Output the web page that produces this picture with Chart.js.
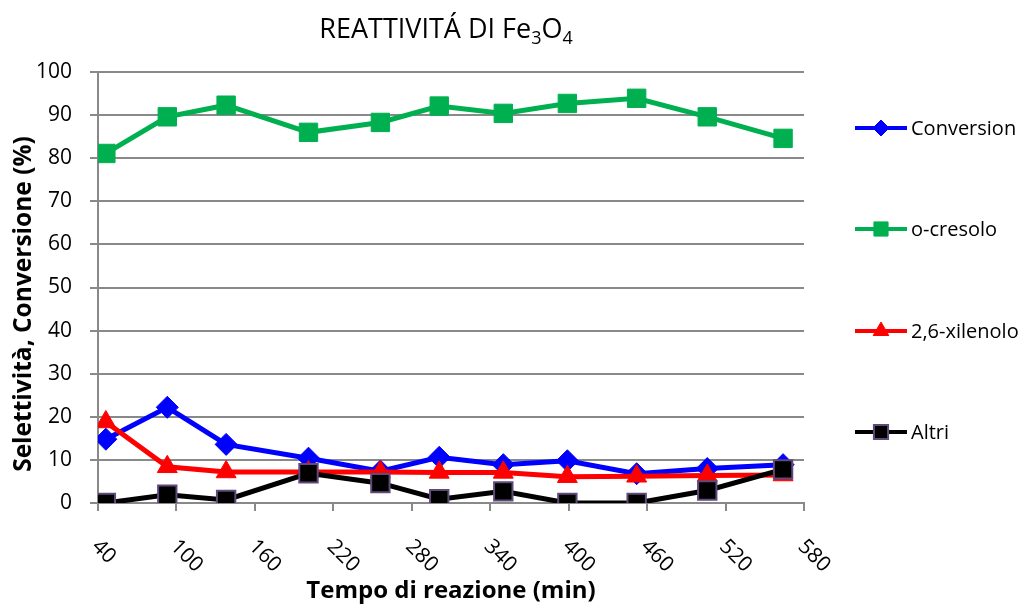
<!DOCTYPE html>
<html>
<head>
<meta charset="utf-8">
<script src="https://cdn.jsdelivr.net/npm/chart.js@4/dist/chart.umd.min.js"></script>
<style>
  html, body { margin: 0; padding: 0; background: #ffffff; }
  #wrap { width: 1036px; height: 607px; }
  canvas { display: block; }
</style>
</head>
<body>
<div id="wrap"><canvas id="c" width="1036" height="607"></canvas></div>
<script>
// ---- data ----
const times       = [46, 93, 138, 201, 256, 301, 350, 399, 452, 506, 564];
const conversion  = [14.8, 22.2, 13.6, 10.4, 7.4, 10.6, 8.9, 9.8, 6.8, 8.0, 8.9];
const oCresolo    = [81.1, 89.6, 92.3, 86.0, 88.3, 92.1, 90.4, 92.7, 93.9, 89.6, 84.6];
const xilenolo    = [18.8, 8.4, 7.2, 7.2, 7.2, 7.1, 7.1, 6.1, 6.2, 6.4, 6.5];
const altri       = [0, 1.9, 0.7, 6.9, 4.6, 0.9, 2.7, 0, 0, 2.9, 7.8];
const seriesNames = ['Conversion', 'o-cresolo', '2,6-xilenolo', 'Altri'];
const xTicks      = [40, 100, 160, 220, 280, 340, 400, 460, 520, 580];
const yTicks      = [0, 10, 20, 30, 40, 50, 60, 70, 80, 90, 100];
const titleParts  = [['REATTIVITÁ DI Fe', false], ['3', true], ['O', false], ['4', true]];
const xTitle      = 'Tempo di reazione (min)';
const yTitle      = 'Selettività, Conversione (%)';

const FONT = "'Open Sans', 'Liberation Sans', sans-serif";
const GRID = '#898989';

function pts(ys) { return ys.map((v, i) => ({ x: times[i], y: v })); }

const styles = [
  { color: '#0000ff', border: '#0000ff', style: 'rectRot', r: 11, lr: 8, bw: 1, order: 3 },
  { color: '#00b050', border: '#00b050', style: 'rect', r: 13, lr: 10, bw: 1, order: 2 },
  { color: '#ff0000', border: '#ff0000', style: 'triangle', r: 11.5, lr: 9, bw: 1, order: 1 },
  { color: '#000000', border: '#604a7b', style: 'rect', r: 13, lr: 10, bw: 2, order: 0 }
];
const seriesValues = [conversion, oCresolo, xilenolo, altri];

const datasets = seriesValues.map((vals, i) => ({
  label: seriesNames[i],
  data: pts(vals),
  borderColor: styles[i].color,
  backgroundColor: styles[i].color,
  borderWidth: 5,
  pointStyle: styles[i].style,
  pointRadius: styles[i].r,
  pointHoverRadius: styles[i].r,
  pointBackgroundColor: styles[i].color,
  pointBorderColor: styles[i].border,
  pointBorderWidth: styles[i].bw,
  tension: 0,
  order: styles[i].order
}));

// custom chart title with subscripts + y axis title
const titlePlugin = {
  id: 'subTitle',
  afterDraw(chart) {
    const ctx = chart.ctx;
    ctx.save();
    ctx.fillStyle = '#000';
    ctx.textBaseline = 'alphabetic';
    const big = "27px " + FONT, small = "18px " + FONT;
    let total = 0;
    titleParts.forEach(([t, sub]) => { ctx.font = sub ? small : big; total += ctx.measureText(t).width; });
    let x = 446 - total / 2;
    const base = 38;
    titleParts.forEach(([t, sub]) => {
      ctx.font = sub ? small : big;
      ctx.textAlign = 'left';
      ctx.fillText(t, x, sub ? base + 6 : base);
      x += ctx.measureText(t).width;
    });
    // y axis title
    ctx.save();
    ctx.translate(24, 304);
    ctx.rotate(-Math.PI / 2);
    ctx.font = "bold 24.5px " + FONT;
    ctx.textAlign = 'center';
    ctx.textBaseline = 'middle';
    ctx.fillText(yTitle, 0, 0);
    ctx.restore();
    ctx.restore();
  }
};

// rotated x tick labels (down-right, as in the reference)
const xLabelPlugin = {
  id: 'xLabels',
  afterDraw(chart) {
    const ctx = chart.ctx;
    const sx = chart.scales.x;
    ctx.save();
    ctx.fillStyle = '#000';
    ctx.font = "21px " + FONT;
    ctx.textAlign = 'left';
    ctx.textBaseline = 'alphabetic';
    xTicks.forEach(v => {
      const px = sx.getPixelForValue(v);
      ctx.save();
      ctx.translate(px - 7, sx.top + 44.5);
      ctx.rotate(Math.PI / 4);
      ctx.fillText(String(v), 0, 0);
      ctx.restore();
    });
    ctx.restore();
  }
};

// legend: line + marker + text
const legendPlugin = {
  id: 'lineLegend',
  afterDraw(chart) {
    const ctx = chart.ctx;
    const rows = [128, 229, 331, 432];
    ctx.save();
    seriesNames.forEach((name, i) => {
      const s = styles[i];
      const y = rows[i];
      ctx.strokeStyle = s.color;
      ctx.lineWidth = 4;
      ctx.beginPath();
      ctx.moveTo(855, y);
      ctx.lineTo(907, y);
      ctx.stroke();
      ctx.fillStyle = s.color;
      ctx.strokeStyle = s.border;
      ctx.lineWidth = s.bw;
      Chart.helpers.drawPoint(ctx, { pointStyle: s.style, radius: s.lr, borderWidth: s.bw, rotation: 0 }, 881, y);
      ctx.fillStyle = '#000';
      ctx.font = "20px " + FONT;
      ctx.textAlign = 'left';
      ctx.textBaseline = 'middle';
      ctx.fillText(name, 911, y + 1);
    });
    ctx.restore();
  }
};

new Chart(document.getElementById('c'), {
  type: 'line',
  data: { datasets },
  plugins: [titlePlugin, xLabelPlugin, legendPlugin],
  options: {
    responsive: false,
    animation: false,
    devicePixelRatio: 1,
    layout: { padding: { top: 72, right: 232, bottom: 0, left: 0 } },
    plugins: {
      legend: { display: false },
      title: { display: false },
      tooltip: { enabled: false }
    },
    scales: {
      x: {
        type: 'linear',
        min: xTicks[0],
        max: xTicks[xTicks.length - 1],
        afterBuildTicks(scale) { scale.ticks = xTicks.map(v => ({ value: v })); },
        ticks: { display: false },
        grid: { drawOnChartArea: false, drawTicks: true, tickLength: 8, color: GRID, lineWidth: 2 },
        border: { display: true, color: GRID, width: 2 },
        title: {
          display: true, text: xTitle, color: '#000',
          font: { family: FONT, size: 24, weight: 'bold' },
          padding: { top: 60, bottom: 1 }
        },
        afterFit(scale) { scale.height = 104; }
      },
      y: {
        min: 0,
        max: 100,
        afterBuildTicks(scale) { scale.ticks = yTicks.map(v => ({ value: v })); },
        ticks: { color: '#000', font: { family: FONT, size: 21 }, padding: 18 },
        grid: { color: GRID, lineWidth: 2, tickLength: 8 },
        border: { display: true, color: GRID, width: 2 },
        title: { display: false },
        afterFit(scale) { scale.width = 98; }
      }
    }
  }
});
</script>
</body>
</html>
